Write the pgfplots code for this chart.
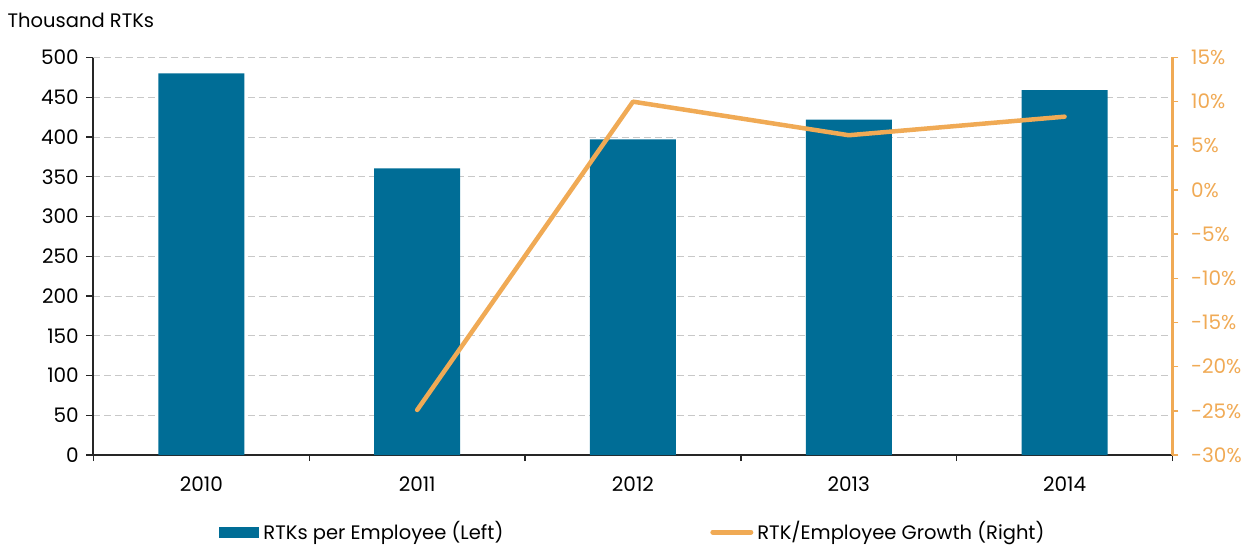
\documentclass[border=0pt]{standalone}
\usepackage{fontspec}
\setmainfont{Poppins}
\usepackage{pgfplots}
\pgfplotsset{compat=1.18}
\definecolor{barblue}{HTML}{006D96}
\definecolor{lineorange}{HTML}{F0AA55}
\definecolor{gridgray}{HTML}{C8C8C8}
\newcommand{\txt}{\fontsize{19.5pt}{22pt}\selectfont}
\newcommand{\tck}{\fontsize{20pt}{22pt}\selectfont}
\begin{document}
\txt
\begin{tikzpicture}
\useasboundingbox (-93.5pt,-92pt) rectangle (1159.5pt,455pt);
\begin{axis}[
  scale only axis,
  width=1079pt, height=397.5pt,
  xmin=-0.5, xmax=4.5,
  ymin=0, ymax=500,
  ytick={0,50,...,500},
  xtick={0,1,2,3,4},
  xticklabels={2010,2011,2012,2013,2014},
  minor xtick={-0.5,0.5,...,4.5},
  major x tick style={draw=none},
  minor x tick style={black!85, line width=1.4pt},
  tick align=outside,
  minor tick length=6pt,
  major tick length=7pt,
  axis x line*=bottom,
  axis y line*=left,
  axis line style={black!85, line width=2pt, -},
  y tick style={black!85, line width=1.4pt},
  ymajorgrids,
  grid style={gridgray, dash pattern=on 7pt off 4pt, line width=0.9pt},
  tick label style={font=\tck},
  /pgf/number format/assume math mode=true,
  yticklabel style={xshift=-1pt},
  xticklabel style={yshift=-8pt},
  legend style={draw=none, at={(0.5,0)}, anchor=center, yshift=-77pt,
     font=\txt, column sep=2pt, inner sep=0pt,
     /tikz/every even column/.append style={column sep=205pt}},
  legend columns=2,
  legend cell align=left,
]
\addplot[ybar, bar width=86pt, fill=barblue, draw=none,
  legend image code/.code={\fill[barblue] (0pt,-5.5pt) rectangle (40pt,5.5pt);}]
  coordinates {(0,480) (1,360.5) (2,397) (3,422) (4,459)};
\addlegendentry{RTKs per Employee (Left)}
\addlegendimage{legend image code/.code={\draw[lineorange, line width=5pt, line cap=round] (2pt,0pt) -- (40pt,0pt);}}
\addlegendentry{RTK/Employee Growth (Right)}
\end{axis}
\begin{axis}[
  scale only axis,
  width=1079pt, height=397.5pt,
  xmin=-0.5, xmax=4.5,
  ymin=-30, ymax=15,
  ytick={-30,-25,...,15},
  axis x line=none,
  axis y line*=right,
  axis line style={lineorange, line width=2.2pt, -},
  y tick style={lineorange, line width=1.6pt},
  tick align=outside,
  major tick length=6pt,
  yticklabel={\pgfmathprintnumber{\tick}\%},
  yticklabel style={lineorange, xshift=6pt},
  tick label style={font=\tck},
  /pgf/number format/assume math mode=true,
]
\addplot[lineorange, line width=4.5pt, line cap=round, line join=round]
  coordinates {(1,-24.9) (2,10) (3,6.2) (4,8.3)};
\end{axis}
\node[anchor=west, font=\txt, inner sep=0pt] at (-86pt,435pt) {Thousand RTKs};
\end{tikzpicture}
\end{document}
